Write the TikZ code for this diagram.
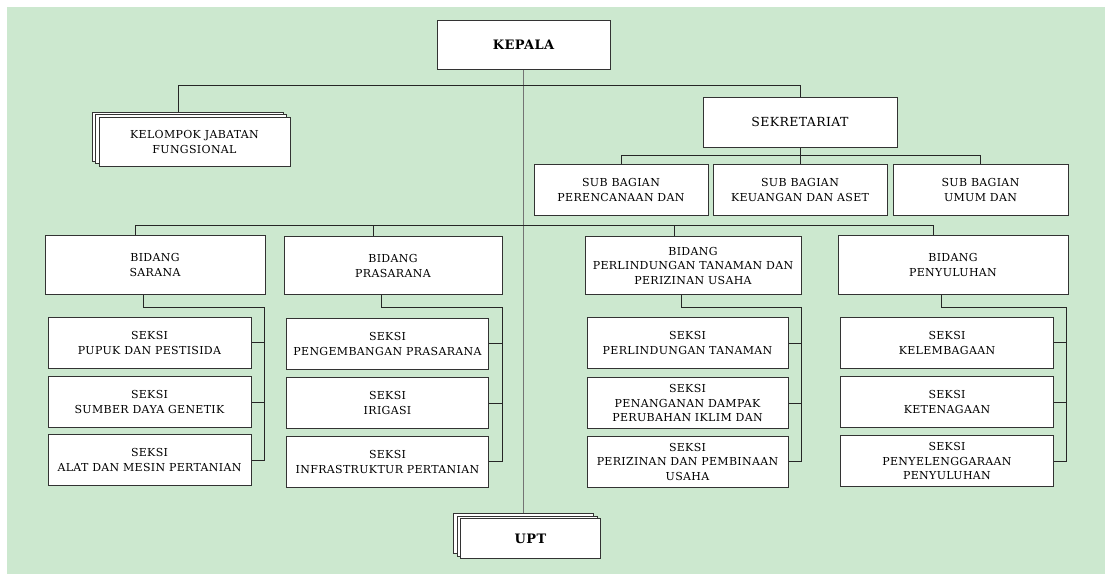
\documentclass[tikz,border=0pt]{standalone}
\usepackage{fontspec}
\setmainfont{DejaVu Serif}[LetterSpace=3]
\usetikzlibrary{shadows}
\definecolor{bggreen}{HTML}{CCE8CF}
\definecolor{boxline}{HTML}{333333}
\pgfdeclarelayer{bglayer}
\pgfdeclarelayer{linelayer}
\pgfsetlayers{bglayer,linelayer,main}
\begin{document}
\begin{tikzpicture}[x=1pt,y=-1pt,
  box/.style={draw=boxline, fill=white, line width=0.9pt, inner sep=0pt, align=center,
    font=\fontsize{11}{15}\selectfont},
  bx/.style 2 args={box, minimum width=#1, minimum height=#2},
  three/.style={font=\fontsize{11}{14.5}\selectfont},
  stackbox/.style={copy shadow={shadow xshift=-7pt, shadow yshift=5pt, draw=boxline, fill=white, line width=0.9pt},
                   copy shadow={shadow xshift=-3.5pt, shadow yshift=2.5pt, draw=boxline, fill=white, line width=0.9pt}},
  conn/.style={draw=black!85, line width=0.8pt},
  trunk/.style={draw=black!55, line width=0.9pt}]
\useasboundingbox (0,0) rectangle (1105,575);
\begin{pgfonlayer}{bglayer}
\fill[bggreen] (7,7) rectangle (1105,574);
\end{pgfonlayer}

% top level
\node[bx={173}{49}, font=\fontsize{13}{15}\bfseries] (kep) at (523.5,44.5) {KEPALA};
\node[bx={191}{49}, stackbox] (kjf) at (194.5,141.5) {KELOMPOK JABATAN\\FUNGSIONAL};
\node[bx={194}{50}, font=\fontsize{12.5}{15}\selectfont] (sek) at (800,122) {SEKRETARIAT};

% sub bagian
\node[bx={174}{51.5}] (sb1) at (621,189.75) {SUB BAGIAN\\PERENCANAAN DAN};
\node[bx={174}{51.5}] (sb2) at (800,189.75) {SUB BAGIAN\\KEUANGAN DAN ASET};
\node[bx={175}{51.5}] (sb3) at (980.5,189.75) {SUB BAGIAN\\UMUM DAN};

% bidang
\node[bx={220}{58.5}] (b1) at (155,265) {BIDANG\\SARANA};
\node[bx={218}{58.5}] (b2) at (393,265.5) {BIDANG\\PRASARANA};
\node[bx={216}{58.5}, three] (b3) at (693,265.5) {BIDANG\\PERLINDUNGAN TANAMAN DAN\\PERIZINAN USAHA};
\node[bx={230}{58.5}] (b4) at (953,265) {BIDANG\\PENYULUHAN};

% seksi
\node[bx={203}{51}] (s11) at (149.5,342.5) {SEKSI\\PUPUK DAN PESTISIDA};
\node[bx={203}{51}] (s12) at (149.5,402) {SEKSI\\SUMBER DAYA GENETIK};
\node[bx={203}{51}] (s13) at (149.5,460) {SEKSI\\ALAT DAN MESIN PERTANIAN};

\node[bx={202}{51}] (s21) at (387.5,343.5) {SEKSI\\PENGEMBANGAN PRASARANA};
\node[bx={202}{51}] (s22) at (387.5,403) {SEKSI\\IRIGASI};
\node[bx={202}{51}] (s23) at (387.5,461.5) {SEKSI\\INFRASTRUKTUR PERTANIAN};

\node[bx={201}{51}] (s31) at (687.5,343) {SEKSI\\PERLINDUNGAN TANAMAN};
\node[bx={201}{51}, three] (s32) at (687.5,403) {SEKSI\\PENANGANAN DAMPAK\\PERUBAHAN IKLIM DAN};
\node[bx={201}{51}, three] (s33) at (687.5,461.5) {SEKSI\\PERIZINAN DAN PEMBINAAN\\USAHA};

\node[bx={212.5}{51}] (s41) at (947,342.5) {SEKSI\\KELEMBAGAAN};
\node[bx={212.5}{51}] (s42) at (947,402) {SEKSI\\KETENAGAAN};
\node[bx={212.5}{51}, three] (s43) at (947,461) {SEKSI\\PENYELENGGARAAN\\PENYULUHAN};

% UPT
\node[bx={140}{40}, stackbox, font=\fontsize{13}{15}\bfseries] (upt) at (530.5,538.5) {UPT};

% connectors
\begin{pgfonlayer}{linelayer}
\coordinate (j1) at (523.5,85);
\coordinate (j2) at (800,155);
\coordinate (j3) at (523.5,225);
\coordinate (kjft) at ([xshift=-16.5pt]kjf.north);
\draw[trunk] (kep.south) -- (kep.south |- upt.north);
\draw[conn] (kjft) -- (kjft |- j1) -- (sek.north |- j1) -- (sek.north);
\draw[conn] (sek.south) -- (sb2.north);
\draw[conn] (sb1.north) -- (sb1.north |- j2) -- (sb3.north |- j2) -- (sb3.north);

\coordinate (b1t) at ([xshift=-20pt]b1.north);
\coordinate (b2t) at ([xshift=-20pt]b2.north);
\coordinate (b3t) at ([xshift=-19pt]b3.north);
\coordinate (b4t) at ([xshift=-20pt]b4.north);
\draw[conn] (b1t) -- (b1t |- j3) -- (b4t |- j3) -- (b4t);
\draw[conn] (b2t) -- (b2t |- j3);
\draw[conn] (b3t) -- (b3t |- j3);

\foreach \b/\sa/\sb/\sc in {b1/s11/s12/s13, b2/s21/s22/s23, b3/s31/s32/s33, b4/s41/s42/s43}{
  \draw[conn] ([xshift=-12pt]\b.south) -- ++(0,12.5) -| ([xshift=13pt]\sc.east) -- (\sc.east);
  \draw[conn] (\sa.east) -- ++(13,0);
  \draw[conn] (\sb.east) -- ++(13,0);
}
\end{pgfonlayer}
\end{tikzpicture}
\end{document}
